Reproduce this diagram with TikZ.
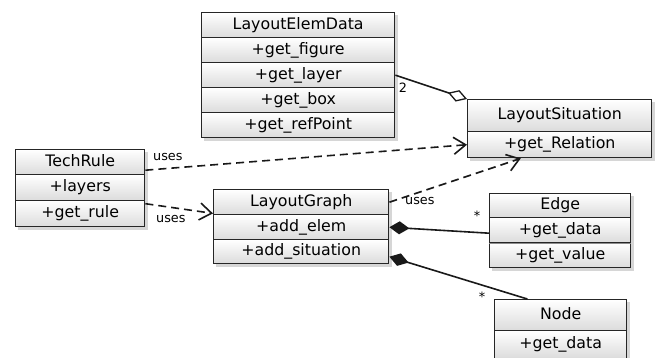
\documentclass[tikz,border=0pt]{standalone}
\usepackage{fontspec}
\setmainfont{DejaVu Sans}
\usetikzlibrary{arrows.meta,backgrounds,calc}
\begin{document}
\begin{tikzpicture}[x=1pt,y=-1pt,
  row/.style={draw=black!85, line width=1.4pt, inner sep=0pt, anchor=north west,
    top color=white, bottom color=black!14, font=\fontsize{15.8}{18}\selectfont,
    text height=11.5pt, text depth=3.5pt},
  lbl/.style={font=\fontsize{12.8}{15}\selectfont, inner sep=0pt},
  shadowbox/.style={fill=black, opacity=0.16},
  conn/.style={line width=1.6pt, black!90},
  usesline/.style={conn, dash pattern=on 8pt off 5pt, -{Straight Barb[length=12pt,width=17pt,line width=1.6pt]}},
  aggr/.style={conn, -{Diamond[open,length=20pt,width=12pt,line width=1.3pt]}},
  comp/.style={conn, {Diamond[length=20pt,width=13pt]}-}]
\useasboundingbox (0,0) rectangle (658,358);
\begin{scope}
\clip (0,0) rectangle (658,358);
% LayoutElemData
\node[row, minimum width=193pt, minimum height=25pt] (led-1) at (201,12) {LayoutElemData};
\node[row, minimum width=193pt, minimum height=25pt] (led-2) at (201,37) {+get\_figure};
\node[row, minimum width=193pt, minimum height=25pt] (led-3) at (201,62) {+get\_layer};
\node[row, minimum width=193pt, minimum height=25pt] (led-4) at (201,87) {+get\_box};
\node[row, minimum width=193pt, minimum height=25pt] (led-5) at (201,112) {+get\_refPoint};
% LayoutSituation
\node[row, minimum width=184pt, minimum height=32pt] (ls-1) at (467,99) {LayoutSituation};
\node[row, minimum width=184pt, minimum height=26pt] (ls-2) at (467,131) {+get\_Relation};
% TechRule
\node[row, minimum width=129pt, minimum height=25pt] (tr-1) at (15,149) {TechRule};
\node[row, minimum width=129pt, minimum height=26pt] (tr-2) at (15,174) {+layers};
\node[row, minimum width=129pt, minimum height=26pt] (tr-3) at (15,200) {+get\_rule};
% LayoutGraph
\node[row, minimum width=175pt, minimum height=25pt] (lg-1) at (213,189) {LayoutGraph};
\node[row, minimum width=175pt, minimum height=25pt] (lg-2) at (213,214) {+add\_elem};
\node[row, minimum width=175pt, minimum height=24pt] (lg-3) at (213,239) {+add\_situation};
% Edge
\node[row, minimum width=141pt, minimum height=24pt] (edge-1) at (489,193) {Edge};
\node[row, minimum width=141pt, minimum height=25pt] (edge-2) at (489,217) {+get\_data};
\node[row, minimum width=141pt, minimum height=25pt] (edge-3) at (489,242) {+get\_value};
\draw[black!45, line width=0.8pt] (edge-2.south west) -- (edge-2.south east);
% Node
\node[row, minimum width=132pt, minimum height=31pt] (nd-1) at (494,299) {Node};
\node[row, minimum width=132pt, minimum height=28pt] (nd-2) at (494,330) {+get\_data};
\begin{scope}[on background layer]
\fill[shadowbox] ([shift={(3pt,-3pt)}]led-1.north west) rectangle ([shift={(3pt,-3pt)}]led-5.south east);
\fill[shadowbox] ([shift={(3pt,-3pt)}]ls-1.north west) rectangle ([shift={(3pt,-3pt)}]ls-2.south east);
\fill[shadowbox] ([shift={(3pt,-3pt)}]tr-1.north west) rectangle ([shift={(3pt,-3pt)}]tr-3.south east);
\fill[shadowbox] ([shift={(3pt,-3pt)}]lg-1.north west) rectangle ([shift={(3pt,-3pt)}]lg-3.south east);
\fill[shadowbox] ([shift={(3pt,-3pt)}]edge-1.north west) rectangle ([shift={(3pt,-3pt)}]edge-3.south east);
\fill[shadowbox] ([shift={(3pt,-3pt)}]nd-1.north west) rectangle ([shift={(3pt,-3pt)}]nd-2.south east);
\end{scope}
% connectors
\draw[usesline] ([yshift=-8pt]tr-1.east) -- (ls-2.west);
\draw[usesline] ([yshift=10pt]tr-3.east) -- ([yshift=2pt]lg-1.south west);
\draw[usesline] (lg-1.east) -- ($(ls-2.south west)!0.29!(ls-2.south east)$);
\draw[aggr] (led-3.east) -- (ls-1.north west);
\draw[comp] (lg-2.east) -- ([yshift=-3pt]edge-2.west);
\draw[comp] ([yshift=-5pt]lg-3.east) -- ($(nd-1.north west)!0.25!(nd-1.north east)$);
% labels
\node[lbl, anchor=west] (l1) at (153,157) {uses};
\node[lbl, anchor=west] (l2) at (156,219) {uses};
\node[lbl, anchor=west] (l3) at (405,201) {uses};
\node[lbl] (l4) at (403,88) {2};
\node[lbl] (l5) at (477,216) {*};
\node[lbl] (l6) at (482,297) {*};
\end{scope}
\end{tikzpicture}
\end{document}
